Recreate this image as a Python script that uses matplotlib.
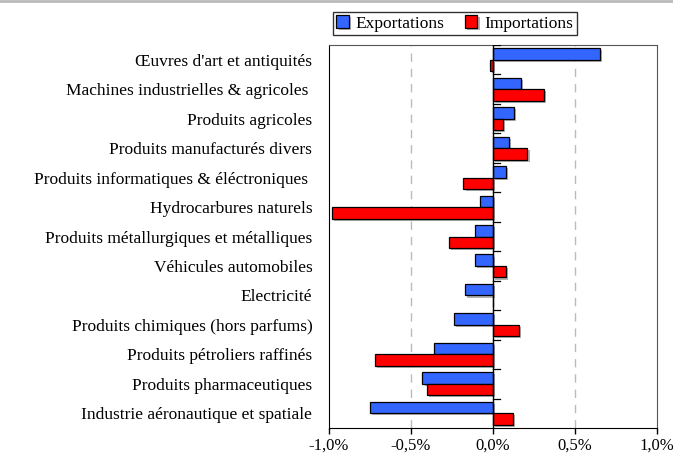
import numpy as np
from matplotlib import pyplot as plt
from matplotlib import patheffects as pe
from matplotlib.lines import Line2D
from matplotlib.ticker import FuncFormatter

categories = [
    "Œuvres d'art et antiquités",
    "Machines industrielles & agricoles ",
    "Produits agricoles",
    "Produits manufacturés divers",
    "Produits informatiques & éléctroniques ",
    "Hydrocarbures naturels",
    "Produits métallurgiques et métalliques",
    "Véhicules automobiles",
    "Electricité",
    "Produits chimiques (hors parfums)",
    "Produits pétroliers raffinés",
    "Produits pharmaceutiques",
    "Industrie aéronautique et spatiale",
]
exportations = [0.65, 0.17, 0.13, 0.10, 0.08, -0.08, -0.11, -0.11, -0.17, -0.24, -0.36, -0.43, -0.75]
importations = [-0.02, 0.31, 0.06, 0.21, -0.18, -0.98, -0.27, 0.08, 0.0, 0.16, -0.72, -0.40, 0.12]

plt.rcParams["font.family"] = "Liberation Serif"
fs = 12.5

fig = plt.figure(figsize=(6.73, 4.53), dpi=100)
ax = fig.add_axes([329 / 673, 1 - 428 / 453, (657 - 329) / 673, (428 - 45) / 453])

y = np.arange(len(categories))
h = 0.39
b1 = ax.barh(y - h / 2, exportations, height=h, color="#3366ff", edgecolor="black", linewidth=0.9,
             label="Exportations")
b2 = ax.barh(y + h / 2, importations, height=h, color="#ff0000", edgecolor="black", linewidth=0.9,
             label="Importations")
for bar in list(b1) + list(b2):
    bar.set_path_effects([pe.SimplePatchShadow(offset=(1.5, -1.5), shadow_rgbFace="gray", alpha=0.6),
                          pe.Normal()])

ax.set_xlim(-1.0, 1.0)
ax.set_ylim(len(categories) - 0.5, -0.5)
ax.set_xticks([-1.0, -0.5, 0.0, 0.5, 1.0])
ax.xaxis.set_major_formatter(FuncFormatter(lambda v, p: f"{v:.1f}%".replace(".", ",")))
ax.tick_params(axis="x", direction="out", length=4, width=1, labelsize=12, pad=3)

ax.set_yticks(y)
ax.set_yticklabels(categories, fontsize=fs)
ax.tick_params(axis="y", length=0, pad=12)

for gx in [-0.5, 0.5]:
    ax.axvline(gx, color="#bbbbbb", linestyle=(0, (6, 5)), linewidth=1, zorder=0)
ax.axvline(0, color="black", linewidth=1, zorder=3)
# petites graduations sur l'axe vertical
for b in np.arange(len(categories)) - 0.5:
    ax.plot([0, 0.04], [b, b], color="black", linewidth=0.9, zorder=3)

for s in ["left", "bottom"]:
    ax.spines[s].set_color("black")
for s in ["top", "right"]:
    ax.spines[s].set_color("#555555")

ax.legend(loc="lower left", bbox_to_anchor=(333 / 673, 1 - 35 / 453), bbox_transform=fig.transFigure,
          ncol=2, fontsize=fs, frameon=True, fancybox=False, edgecolor="black", handlelength=0.7,
          handleheight=0.7, handletextpad=0.4, columnspacing=1.2, borderpad=0.2, borderaxespad=0)

fig.add_artist(Line2D([0, 1], [0.998, 0.998], color="#bbbbbb", linewidth=2, transform=fig.transFigure))

fig.savefig("out.png", dpi=100)
